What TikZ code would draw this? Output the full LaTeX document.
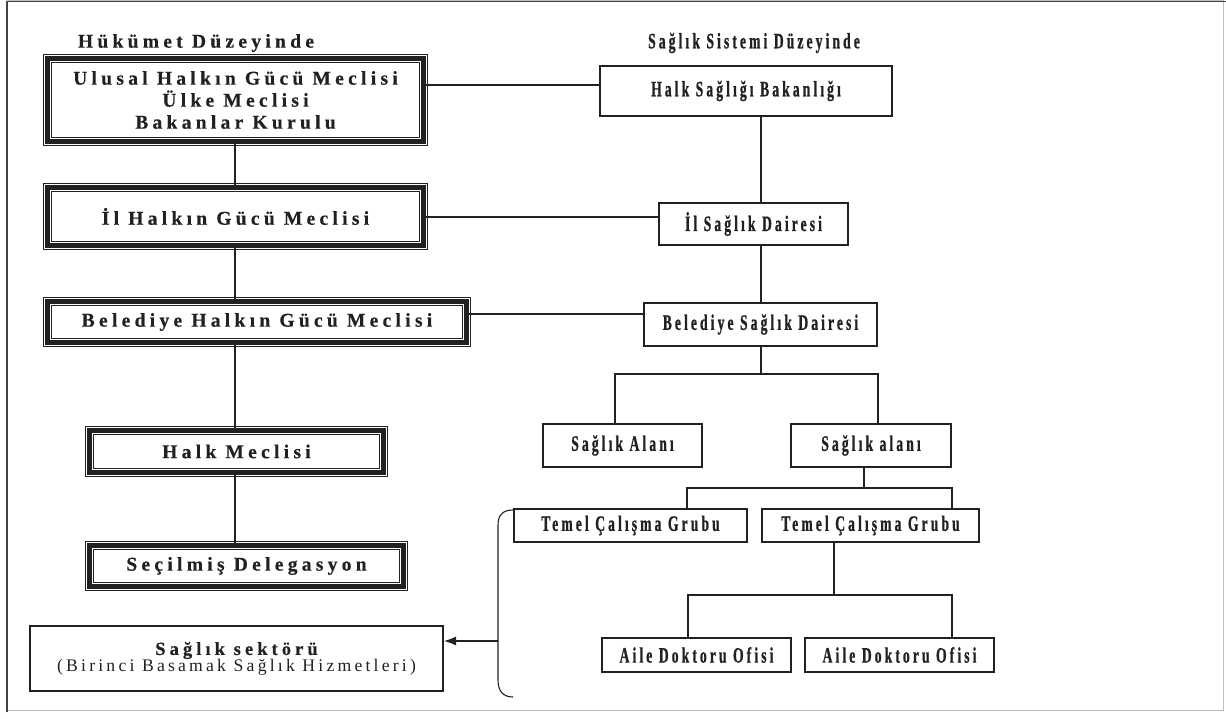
\documentclass[tikz,border=0pt]{standalone}
\usepackage{fontspec}
\setmainfont{Liberation Serif}
\newfontfamily\lf[LetterSpace=22,FakeBold=0.5]{Liberation Serif}
\newfontfamily\rf[LetterSpace=14,FakeStretch=0.62,FakeBold=0.8]{Liberation Serif}
\newfontfamily\lr[LetterSpace=18]{Liberation Serif}
\usetikzlibrary{arrows.meta}
\definecolor{ink}{gray}{0.13}
\tikzset{
  dbl/.style={draw=ink, line width=0.7pt, double=white, double distance=7.5pt,
    postaction={draw=ink, line width=5pt}, inner sep=0pt, align=center, text=ink,
    font=\lf\bfseries\fontsize{19.5}{22}\selectfont},
  sgl/.style={draw=ink, line width=2pt, inner sep=0pt, align=center, text=ink,
    font=\rf\bfseries\fontsize{22}{24}\selectfont},
  title/.style={inner sep=0pt, text=ink},
  conn/.style={draw=ink, line width=1.1pt},
}
\begin{document}
\begin{tikzpicture}[x=1pt,y=-1pt]
\useasboundingbox (0,0) rectangle (1226,719);
% frame
\draw[gray!50, line width=1pt] (7,1) rectangle (1223,710);
\draw[ink!85, line width=1.3pt] (7,712) -- (7,1.2) -- (1226,1.2);

% titles
\node[title, font=\lf\bfseries\fontsize{19.5}{22}\selectfont] (t1) at (196,43) {Hükümet Düzeyinde};
\node[title, font=\rf\bfseries\fontsize{22}{24}\selectfont] (t2) at (754,43) {Sağlık Sistemi Düzeyinde};

% left column
\node[dbl, minimum width=376pt, minimum height=83pt] (b1) at (235.5,100)
  {Ulusal Halkın Gücü Meclisi\\Ülke Meclisi\\Bakanlar Kurulu};
\node[dbl, minimum width=376pt, minimum height=58pt] (b2) at (235.5,216.5) {İl Halkın Gücü Meclisi};
\node[dbl, minimum width=419pt, minimum height=41pt] (b3) at (257,322) {Belediye Halkın Gücü Meclisi};
\node[dbl, minimum width=294pt, minimum height=42pt] (b4) at (236.5,451.5) {Halk Meclisi};
\node[dbl, minimum width=314pt, minimum height=41pt] (b5) at (246.5,566) {Seçilmiş Delegasyon};
\node[draw=ink, line width=2pt, inner sep=0pt, align=center, text=ink,
      minimum width=413pt, minimum height=65pt] (b6) at (236.5,658.5)
  {{\lf\bfseries\fontsize{18.5}{23}\selectfont Sağlık sektörü}\\[-1pt]
   {\lr\fontsize{17.7}{21}\selectfont (Birinci Basamak Sağlık Hizmetleri)}};

% right column
\node[sgl, minimum width=292pt, minimum height=50pt] (r1) at (746,91) {Halk Sağlığı Bakanlığı};
\node[sgl, minimum width=189pt, minimum height=42pt] (r2) at (753.5,224) {İl Sağlık Dairesi};
\node[sgl, minimum width=233pt, minimum height=43pt] (r3) at (760.5,324.5) {Belediye Sağlık Dairesi};
\node[sgl, minimum width=159pt, minimum height=43pt] (s1) at (622.5,445.5) {Sağlık Alanı};
\node[sgl, minimum width=160pt, minimum height=43pt] (s2) at (871,445.5) {Sağlık alanı};
\node[sgl, minimum width=233pt, minimum height=33pt] (g1) at (630.5,525.5) {Temel Çalışma Grubu};
\node[sgl, minimum width=217pt, minimum height=33pt] (g2) at (870.5,525.5) {Temel Çalışma Grubu};
\node[sgl, minimum width=189pt, minimum height=34pt] (a1) at (696.5,655) {Aile Doktoru Ofisi};
\node[sgl, minimum width=189pt, minimum height=34pt] (a2) at (899.5,655) {Aile Doktoru Ofisi};

% left vertical connectors
\draw[conn] (b1.south -| 235,0) -- (b2.north -| 235,0);
\draw[conn] (b2.south -| 235,0) -- (b3.north -| 235,0);
\draw[conn] (b3.south -| 235,0) -- (b4.north -| 235,0);
\draw[conn] (b4.south -| 235,0) -- (b5.north -| 235,0);

% horizontal links
\draw[conn] (b1.east |- 0,85) -- (r1.west |- 0,85);
\draw[conn] (b2.east |- 0,217) -- (r2.west |- 0,217);
\draw[conn] (b3.east |- 0,314) -- (r3.west |- 0,314);

% right vertical connectors
\draw[conn] (r1.south -| 761,0) -- (r2.north -| 761,0);
\draw[conn] (r2.south -| 761,0) -- (r3.north -| 761,0);

% Belediye Sağlık Dairesi -> Sağlık Alanı / alanı
\coordinate (bus1) at (761,374);
\draw[conn] (r3.south -| bus1) -- (bus1);
\draw[conn] (s1.north -| 615,0) -- (615,374) -- (878,374) -- (s2.north -| 878,0);

% Sağlık alanı -> Temel Çalışma Grubu
\coordinate (bus2) at (864,488);
\draw[conn] (s2.south -| bus2) -- (bus2);
\draw[conn] (g1.north -| 687,0) -- (687,488) -- (952,488) -- (g2.north -| 952,0);

% Temel Çalışma Grubu -> Aile Doktoru Ofisi
\coordinate (bus3) at (834,595);
\draw[conn] (g2.south -| bus3) -- (bus3);
\draw[conn] (a1.north -| 688,0) -- (688,595) -- (952,595) -- (a2.north -| 952,0);

% bracket and arrow
\coordinate (brk) at (498,641);
\draw[conn] (513,510) .. controls (503,510) and (498,515) .. (498,525) -- (498,680)
  .. controls (498,692) and (504,697) .. (513,697);
\draw[conn, -{Latex[length=12pt,width=9pt]}] (brk) -- (b6.east |- brk);
\end{tikzpicture}
\end{document}
